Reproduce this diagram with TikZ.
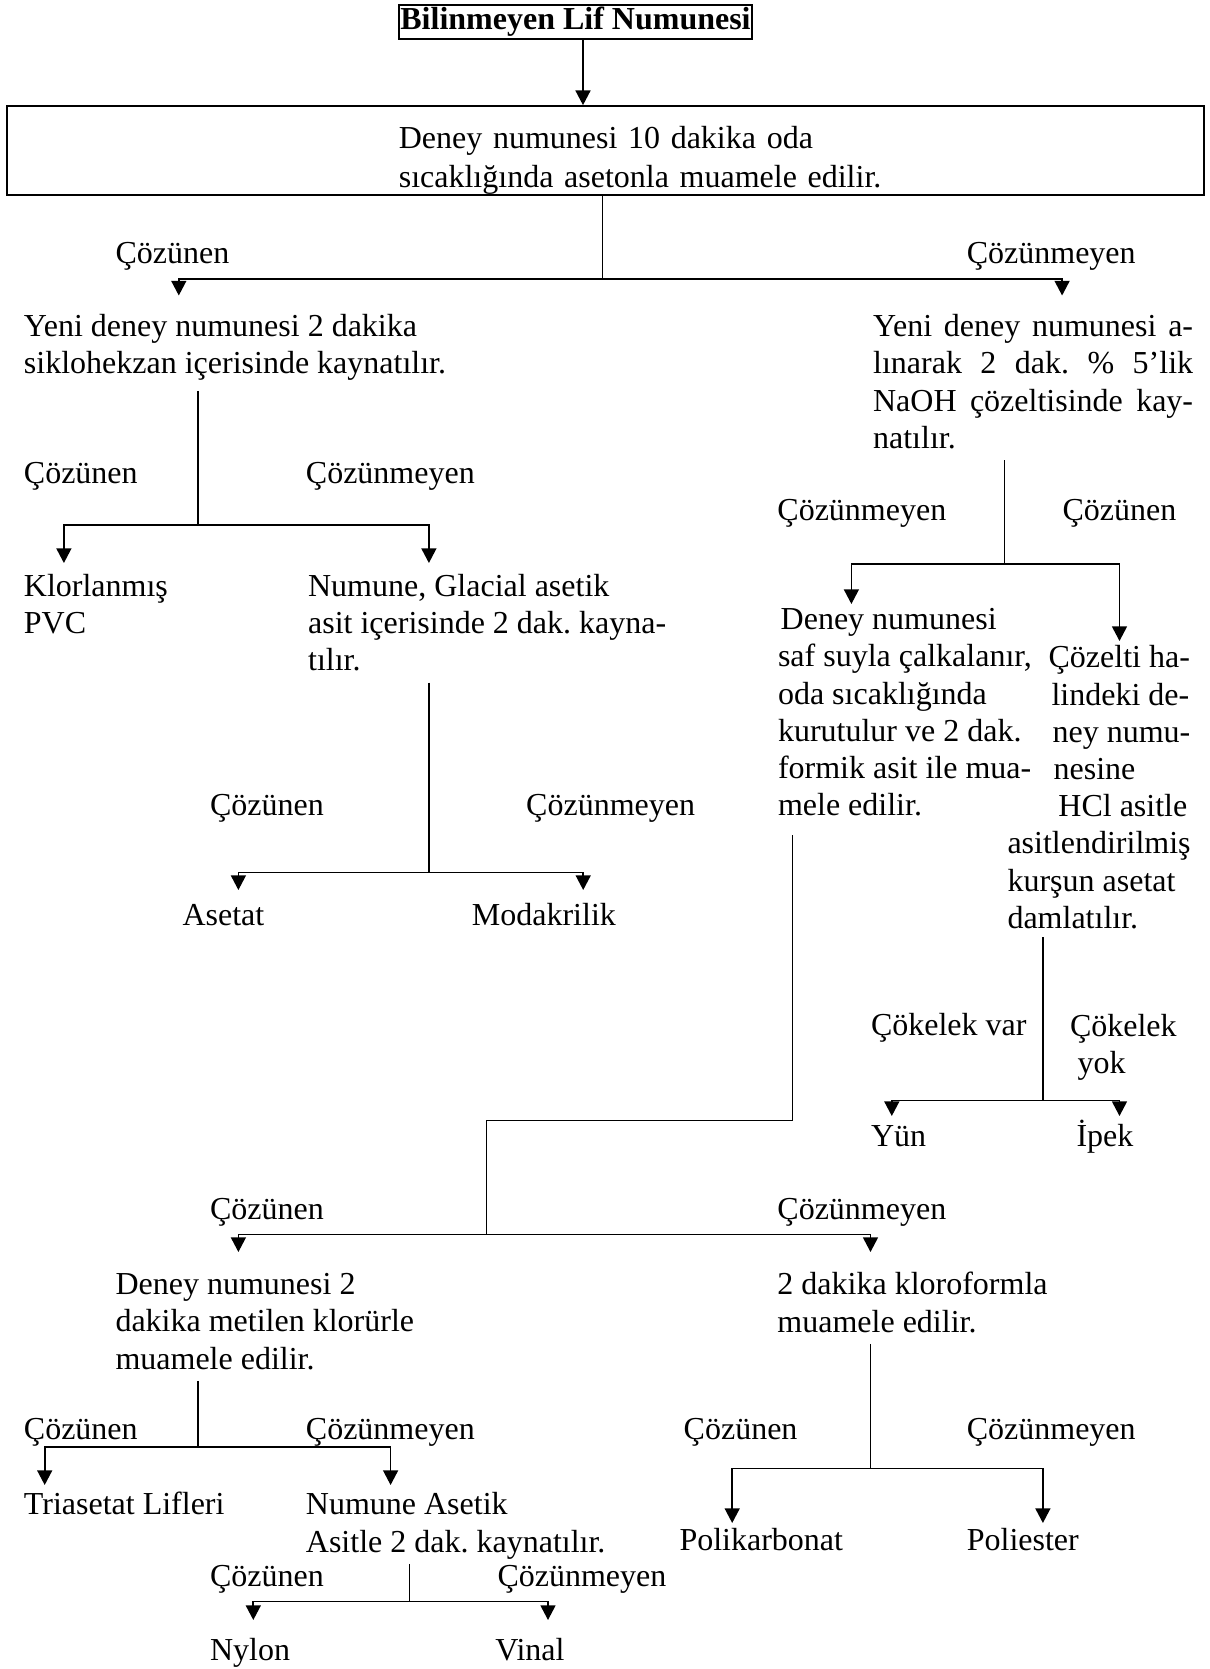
\documentclass[tikz,border=0pt]{standalone}
\usepackage{fontspec}
\setmainfont{Liberation Serif}
\usetikzlibrary{arrows.meta}
\frenchspacing
\newcommand{\jline}[1]{\makebox[120pt][s]{#1}}

\begin{document}
\begin{tikzpicture}[x=0.375pt,y=-0.375pt,
  txt/.style={anchor=north west,inner sep=0pt,align=left,font=\fontsize{12pt}{13.95pt}\selectfont,
    execute at begin node=\strut,execute at end node=\strut},
  titlebox/.style={draw,line width=0.7pt,inner xsep=0.6pt,inner ysep=1pt,font=\fontsize{12pt}{13.8pt}\selectfont\bfseries},
  mainbox/.style={draw,line width=0.8pt,inner sep=0pt,text width=448.6pt,minimum height=33.2pt,align=left,
    font=\fontsize{12pt}{14.4pt}\selectfont,execute at begin node=\rule{0pt}{15.9pt},
    execute at end node=\rule[-3pt]{0pt}{3pt}},
  stem/.style={line width=0.45pt},
  branch/.style={line width=0.65pt,-{Triangle[width=5.6pt,length=5.5pt]}}]
  \useasboundingbox (0,0) rectangle (1210,1669);

  \node[titlebox] (title) at (575.5,22) {Bilinmeyen Lif Numunesi};
  \node[mainbox] (main) at (605.5,150.6) {\hspace*{146.8pt}Deney numunesi 10 dakika oda\\\hspace*{146.8pt}sıcaklığında asetonla muamele edilir.};
  \coordinate (a0) at (583,0);
  \draw[branch] (title.south -| a0) -- (main.north -| a0);

  % first split (aseton)
  \coordinate (s1) at (602.3,278.8);
  \coordinate (t1a) at (178.8,295.5);
  \coordinate (t1b) at (1062.1,295.5);
  \draw[stem] (main.south -| s1) -- (s1);
  \draw[branch] (s1) -| (t1a);
  \draw[branch] (s1) -| (t1b);
  \node[txt] (l1a) at (115,237) {Çözünen};
  \node[txt] (l1b) at (966.3,237) {Çözünmeyen};

  % left: siklohekzan
  \node[txt] (siklo) at (23.4,314) {Yeni deney numunesi 2 dakika\\siklohekzan içerisinde kaynatılır.};
  \coordinate (s2) at (197.9,524.7);
  \coordinate (t2a) at (63.9,563);
  \coordinate (t2b) at (428.9,563);
  \draw[stem,shorten <=2pt] (siklo.south -| s2) -- (s2);
  \draw[branch] (s2) -| (t2a);
  \draw[branch] (s2) -| (t2b);
  \node[txt] (l2a) at (23.4,456.5) {Çözünen};
  \node[txt] (l2b) at (305.4,456.5) {Çözünmeyen};
  \node[txt] (pvc) at (23.4,573.8) {Klorlanmış\\PVC};
  \node[txt] (glacial) at (307.6,573.8) {Numune, Glacial asetik\\asit içerisinde 2 dak. kayna-\\tılır.};

  \coordinate (s3) at (428.9,872.6);
  \coordinate (t3a) at (238.4,890);
  \coordinate (t3b) at (583.2,890);
  \draw[stem] (glacial.south -| s3) -- (s3);
  \draw[branch] (s3) -| (t3a);
  \draw[branch] (s3) -| (t3b);
  \node[txt] (l3a) at (209.6,788.5) {Çözünen};
  \node[txt] (l3b) at (525.7,788.5) {Çözünmeyen};
  \node[txt] (asetat) at (182,899) {Asetat};
  \node[txt] (modak) at (471.4,899) {Modakrilik};

  % right: NaOH
  \node[txt] (naoh) at (872.6,314) {\jline{Yeni deney numunesi a-}\\\jline{lınarak 2 dak. \% 5’lik}\\\jline{NaOH çözeltisinde kay-}\\natılır.};
  \coordinate (s4) at (1004.6,564);
  \coordinate (t4a) at (851.4,604);
  \coordinate (t4b) at (1119.5,641);
  \draw[stem] (naoh.south -| s4) -- (s4);
  \draw[branch] (s4) -| (t4a);
  \draw[branch] (s4) -| (t4b);
  \node[txt] (l4a) at (776.9,493.8) {Çözünmeyen};
  \node[txt] (l4b) at (1062.1,493.8) {Çözünen};
  \node[txt] (formik) at (777.5,607.9) {\hspace*{1pt}Deney numunesi\\saf suyla çalkalanır,\\oda sıcaklığında\\kurutulur ve 2 dak.\\formik asit ile mua-\\mele edilir.};
  \node[txt] (kursun) at (1007,645.1) {\hspace*{15.4pt}Çözelti ha-\\\hspace*{16.5pt}lindeki de-\\\hspace*{16.9pt}ney numu-\\\hspace*{17.3pt}nesine\\\hspace*{19.1pt}HCl asitle\\asitlendirilmiş\\kurşun asetat\\damlatılır.};

  \coordinate (s5) at (1042.9,1100.4);
  \coordinate (t5a) at (891.8,1116);
  \coordinate (t5b) at (1119.5,1116);
  \draw[stem,shorten <=-1pt] (kursun.south -| s5) -- (s5);
  \draw[branch] (s5) -| (t5a);
  \draw[branch] (s5) -| (t5b);
  \node[txt] (l5a) at (870.5,1008.8) {Çökelek var};
  \node[txt] (l5b) at (1069.5,1013.3) {Çökelek\\\hspace*{2.8pt}yok};
  \node[txt] (yun) at (870.5,1119.5) {Yün};
  \node[txt] (ipek) at (1076,1119.5) {İpek};

  % formik asit
  \coordinate (c6) at (792.8,1120.6);
  \coordinate (s6) at (486.3,1234.5);
  \coordinate (t6a) at (238.4,1252);
  \coordinate (t6b) at (870.5,1252);
  \draw[stem,shorten <=3pt] (formik.south -| c6) -- (c6) -| (s6);
  \draw[branch] (s6) -| (t6a);
  \draw[branch] (s6) -| (t6b);
  \node[txt] (l6a) at (209.6,1192.9) {Çözünen};
  \node[txt] (l6b) at (776.9,1192.9) {Çözünmeyen};
  \node[txt] (metilen) at (115,1273) {Deney numunesi 2\\dakika metilen klorürle\\muamele edilir.};
  \node[txt] (kloro) at (776.9,1271.9) {2 dakika kloroformla\\muamele edilir.};

  % metilen klorür
  \coordinate (s7) at (197.9,1447.3);
  \coordinate (t7a) at (44.7,1485);
  \coordinate (t7b) at (390.6,1485);
  \draw[stem] (metilen.south -| s7) -- (s7);
  \draw[branch] (s7) -| (t7a);
  \draw[branch] (s7) -| (t7b);
  \node[txt] (l7a) at (23.4,1413.2) {Çözünen};
  \node[txt] (l7b) at (305.4,1413.2) {Çözünmeyen};
  \node[txt] (triasetat) at (23.4,1487.7) {Triasetat Lifleri};
  \node[txt] (asetik) at (305.4,1492.2) {Numune Asetik\\Asitle 2 dak. kaynatılır.};

  \coordinate (s8) at (409.7,1601.6);
  \coordinate (t8a) at (253.3,1620);
  \coordinate (t8b) at (548,1620);
  \draw[stem] (asetik.south -| s8) -- (s8);
  \draw[branch] (s8) -| (t8a);
  \draw[branch] (s8) -| (t8b);
  \node[txt] (l8a) at (209.6,1560) {Çözünen};
  \node[txt] (l8b) at (497,1560) {Çözünmeyen};
  \node[txt] (nylon) at (209.6,1633.5) {Nylon};
  \node[txt] (vinal) at (494.8,1633.5) {Vinal};

  % kloroform
  \coordinate (s9) at (870.5,1468.6);
  \coordinate (t9a) at (732.2,1523);
  \coordinate (t9b) at (1042.9,1523);
  \draw[stem] (kloro.south -| s9) -- (s9);
  \draw[branch] (s9) -| (t9a);
  \draw[branch] (s9) -| (t9b);
  \node[txt] (l9a) at (683.2,1413.2) {Çözünen};
  \node[txt] (l9b) at (966.3,1413.2) {Çözünmeyen};
  \node[txt] (polik) at (679,1523.9) {Polikarbonat};
  \node[txt] (poli) at (966.3,1523.9) {Poliester};
\end{tikzpicture}
\end{document}
